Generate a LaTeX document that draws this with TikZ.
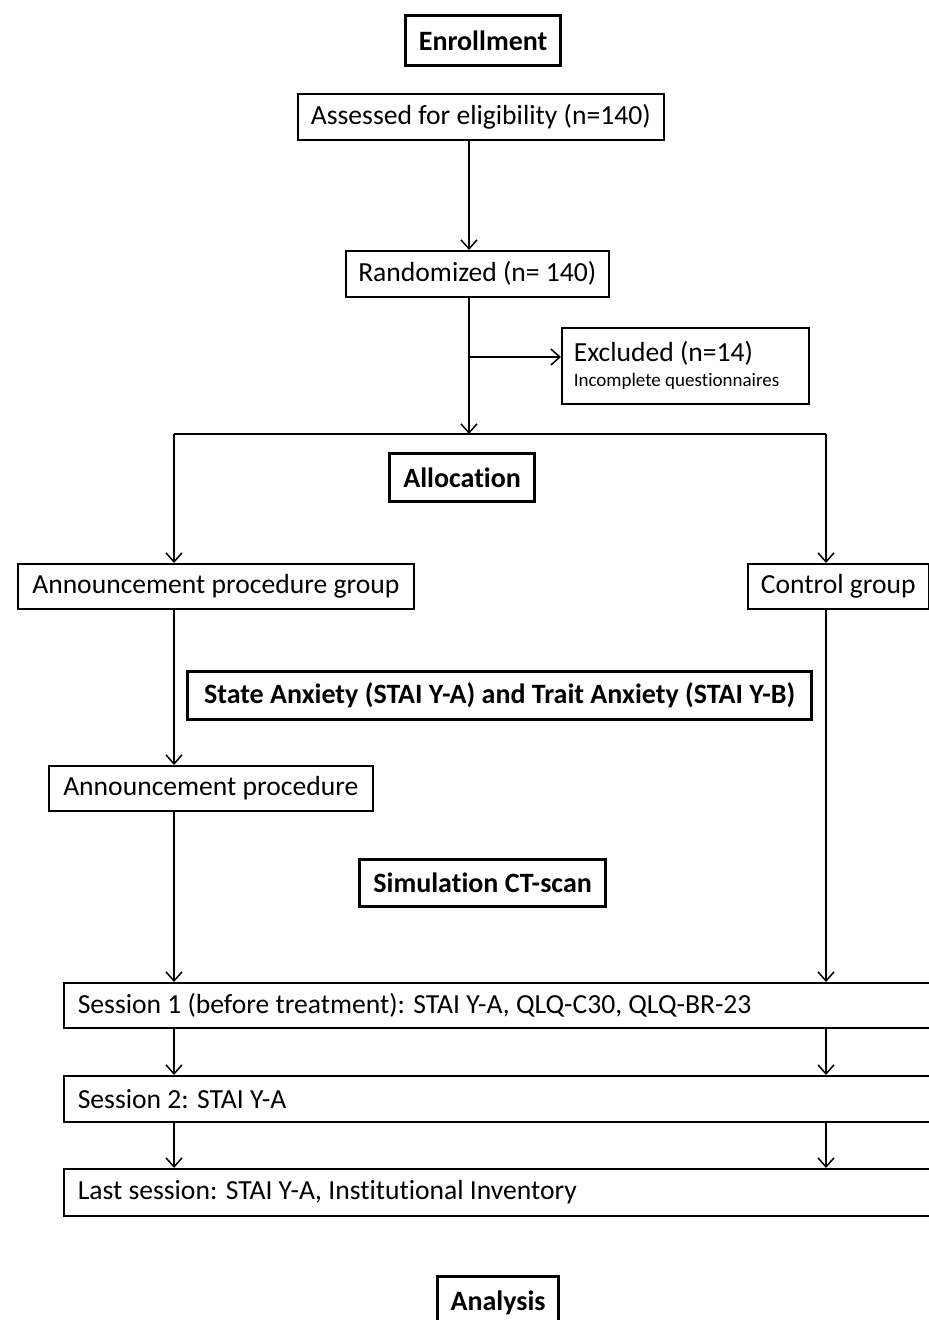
\documentclass[tikz,border=0pt]{standalone}
\usepackage{fontspec}
\setmainfont{Carlito}[Ligatures=NoCommon]
\usetikzlibrary{arrows.meta}
\tikzset{
  box/.style={draw, line width=1.6pt, inner sep=0pt, anchor=north west, minimum height=46pt, font=\fontsize{27.6}{31}\selectfont},
  headbox/.style={draw, line width=3.2pt, inner sep=0pt, anchor=north west, minimum height=48pt, font=\fontsize{28}{32}\selectfont\bfseries},
  sessbox/.style={box, inner xsep=14pt, minimum width=880pt},
  arr/.style={line width=1.5pt, -{Straight Barb[length=9pt,width=16pt,line width=1.5pt]}},
  ln/.style={line width=1.5pt}
}
\begin{document}
\begin{tikzpicture}[x={(1pt,0)}, y={(0,-1pt)}]
\clip (0,0) rectangle (929,1320);
\fill[white] (0,0) rectangle (929,1320);
% headings
\node[headbox, minimum width=155pt, minimum height=50pt] (enr) at (404,14) {Enrollment};
\node[headbox, minimum width=145pt] (alloc) at (388,452) {Allocation};
\node[headbox, minimum width=624pt] (stai) at (186,670) {State Anxiety (STAI Y-A) and Trait Anxiety (STAI Y-B)};
\node[headbox, minimum width=246pt, minimum height=47pt] (sim) at (358,858) {Simulation CT-scan};
\node[headbox, minimum width=121pt, minimum height=60pt, text depth=12pt] (ana) at (436,1275) {Analysis};
% boxes
\node[box, minimum width=366pt] (assess) at (297,93) {Assessed for eligibility (n=140)};
\node[box, minimum width=263pt] (rand) at (345,250) {Randomized (n= 140)};
\node[box, align=left, inner xsep=12pt, minimum width=247pt, minimum height=76pt] (excl) at (561,327)
  {\makebox[223pt][l]{Excluded (n=14)}\\[-6pt]\makebox[223pt][l]{\fontsize{19}{21}\selectfont Incomplete questionnaires}};
\node[box, minimum width=396pt, minimum height=45pt] (apg) at (17,563) {Announcement procedure group};
\node[box, minimum width=181pt, minimum height=45pt] (ctrl) at (747,563) {Control group};
\node[box, minimum width=324pt, minimum height=45pt] (ap) at (48,765) {Announcement procedure};
\node[sessbox, minimum height=45pt] (s1) at (63,982) {\makebox[852pt][l]{Session 1 (before treatment): STAI Y-A, QLQ-C30, QLQ-BR-23}};
\node[sessbox, minimum height=46pt] (s2) at (63,1075) {\makebox[852pt][l]{Session 2: STAI Y-A}};
\node[sessbox, minimum height=47pt] (s3) at (63,1168) {\makebox[852pt][l]{Last session: STAI Y-A, Institutional Inventory}};
% coordinates
\coordinate (c1) at (469,434);
\coordinate (brk) at (469,357);
\coordinate (L) at (174,434);
\coordinate (R) at (826,434);
% connectors
\draw[arr] (assess.south -| c1) -- (rand.north -| c1);
\draw[arr] (rand.south -| c1) -- (c1);
\draw[arr] (brk) -- (brk -| excl.west);
\draw[ln] (L) -- (R);
\draw[arr] (L) -- (L |- apg.north);
\draw[arr] (R) -- (R |- ctrl.north);
\draw[arr] (apg.south -| L) -- (ap.north -| L);
\draw[arr] (ap.south -| L) -- (s1.north -| L);
\draw[arr] (ctrl.south -| R) -- (s1.north -| R);
\draw[arr] (s1.south -| L) -- (s2.north -| L);
\draw[arr] (s1.south -| R) -- (s2.north -| R);
\draw[arr] (s2.south -| L) -- (s3.north -| L);
\draw[arr] (s2.south -| R) -- (s3.north -| R);
\end{tikzpicture}
\end{document}
